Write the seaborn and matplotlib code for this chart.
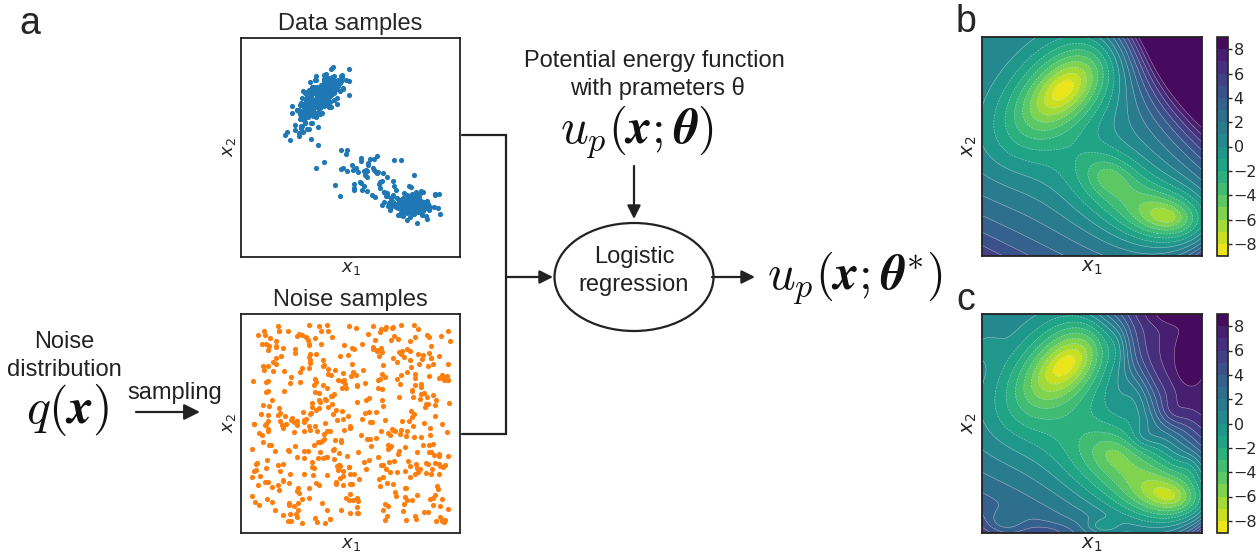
import numpy as np
import matplotlib
matplotlib.use("Agg")
import matplotlib.pyplot as plt
import seaborn as sns
import pandas as pd
from matplotlib.patches import Ellipse, FancyArrowPatch

# ------------------------------------------------------------------ data
# Data samples: gaussian components (axes-fraction units)
data_means = [(0.36, 0.74), (0.27, 0.62), (0.775, 0.245), (0.56, 0.37)]
data_sds = [(0.07, 0.033), (0.07, 0.045), (0.055, 0.03), (0.11, 0.06)]
data_angles = [44, 44, -8, -25]
data_counts = [260, 22, 150, 60]
# Noise samples: uniform noise distribution q(x) on the unit square
noise_count = 500

# Energy landscape u_p (panel b): generalized gaussian wells / bumps
b_amp = [-10.0, -7.5, -4.2, -1.5, 21.5]
b_mu = [(0.37, 0.76), (0.84, 0.18), (0.58, 0.36), (0.55, 0.30), (1.02, 1.02)]
b_sd = [(0.2, 0.11), (0.14, 0.08), (0.11, 0.08), (0.30, 0.15), (0.5, 0.2)]
b_ang = [42, -10, -25, -25, -55]
b_pow = [0.75, 0.75, 0.75, 1.0, 1.0]
b_cap = [0, 0, 0, 0, 0]          # 0 = no saturation
# exponential ramps toward the bottom corners: amplitude, direction (deg), offset, width
b_ramp_amp = [5.0, 5.0]
b_ramp_dir = [243.0, -45.0]
b_ramp_off = [0.0, 0.707]
b_ramp_w = [0.2, 0.08]
b_base = 1.0

# Learned landscape (panel c): same structure, saturated ridge, plus ripples
c_amp = [-10.0, -7.6, -4.2, -2.0, 38.0,
         3.0, 2.0, 1.6, -1.5, -1.4, -2.0, -1.8, 1.2, -1.0, 1.4, -1.2]
c_mu = [(0.38, 0.77), (0.85, 0.17), (0.60, 0.36), (0.58, 0.30), (1.02, 1.02),
        (0.94, 0.81), (0.92, 1.0), (0.86, 0.55), (0.70, 0.62), (0.62, 0.86),
        (0.55, 0.03), (0.10, 0.05), (0.30, 0.0), (0.02, 0.85), (0.74, 0.44),
        (0.95, 0.30)]
c_sd = [(0.2, 0.11), (0.14, 0.08), (0.15, 0.10), (0.30, 0.16), (0.5, 0.2),
        (0.035, 0.07), (0.12, 0.035), (0.05, 0.05), (0.05, 0.08), (0.04, 0.08),
        (0.05, 0.025), (0.06, 0.04), (0.08, 0.03), (0.05, 0.05), (0.05, 0.04),
        (0.04, 0.05)]
c_ang = [42, -10, -20, -25, -55] + [0] * 11
c_pow = [0.75, 0.75, 0.75, 1.0, 1.0] + [1.0] * 11
c_cap = [0, 0, 0, 0, 6.8] + [0] * 11
c_ramp_amp = [5.0, 7.0]
c_ramp_dir = [243.0, -45.0]
c_ramp_off = [0.0, 0.707]
c_ramp_w = [0.2, 0.07]
c_base = 1.0

cbar_ticks = [-8, -6, -4, -2, 0, 2, 4, 6, 8]
levels = np.arange(-9, 10, 1)

# ------------------------------------------------------------------ style
sns.set_theme(style="white")
plt.rcParams["font.family"] = ["Liberation Sans", "DejaVu Sans"]
plt.rcParams["mathtext.fontset"] = "dejavusans"

W, H = 1258, 552
fig = plt.figure(figsize=(W / 100, H / 100), dpi=100)


def ax_rect(l, t, r, b):
    return [l / W, 1 - b / H, (r - l) / W, (b - t) / H]


def style_box(ax):
    ax.set_xticks([])
    ax.set_yticks([])
    for s in ax.spines.values():
        s.set_visible(True)
        s.set_color("#222222")
        s.set_linewidth(1.3)


# ------------------------------------------------------------------ scatter panels
rng = np.random.default_rng(7)
pts = []
for m, sd, a, n in zip(data_means, data_sds, data_angles, data_counts):
    z = rng.standard_normal((n, 2)) * np.array(sd)
    t = np.deg2rad(a)
    R = np.array([[np.cos(t), -np.sin(t)], [np.sin(t), np.cos(t)]])
    pts.append(z @ R.T + np.array(m))
pts = np.vstack(pts)
df_data = pd.DataFrame({"x1": pts[:, 0], "x2": pts[:, 1]})
noise = rng.uniform(0, 1, (noise_count, 2))
df_noise = pd.DataFrame({"x1": noise[:, 0], "x2": noise[:, 1]})

ax_d = fig.add_axes(ax_rect(241, 38, 460, 257))
sns.scatterplot(data=df_data, x="x1", y="x2", ax=ax_d, s=14, color="#1f77b4",
                linewidth=0, legend=False)
ax_d.set_xlim(0, 1)
ax_d.set_ylim(0, 1)

ax_n = fig.add_axes(ax_rect(241, 314, 460, 533))
sns.scatterplot(data=df_noise, x="x1", y="x2", ax=ax_n, s=14, color="#ff7f0e",
                linewidth=0, legend=False)
ax_n.set_xlim(-0.05, 1.05)
ax_n.set_ylim(-0.05, 1.05)

for ax in (ax_d, ax_n):
    style_box(ax)
    ax.set_xlabel("$x_1$", fontsize=13, labelpad=2)
    ax.set_ylabel("$x_2$", fontsize=13, labelpad=2)
ax_d.set_title("Data samples", fontsize=17, pad=6)
ax_n.set_title("Noise samples", fontsize=17, pad=6)


# ------------------------------------------------------------------ energy panels
def energy(amp, mu, sd, ang, pw, cap, ramp_amp, ramp_dir, ramp_off, ramp_w, base, X, Y):
    E = np.full_like(X, base)
    for a, m, s, g, p, c in zip(amp, mu, sd, ang, pw, cap):
        t = np.deg2rad(g)
        dx, dy = X - m[0], Y - m[1]
        u = dx * np.cos(t) + dy * np.sin(t)
        v = -dx * np.sin(t) + dy * np.cos(t)
        q = 0.5 * ((u / s[0]) ** 2 + (v / s[1]) ** 2)
        term = a * np.exp(-q ** p)
        if c > 0:
            term = c * np.tanh(term / c)
        E += term
    for a, d, o, w in zip(ramp_amp, ramp_dir, ramp_off, ramp_w):
        t = np.deg2rad(d)
        sproj = X * np.cos(t) + Y * np.sin(t)
        E += a * np.exp((sproj - o) / w)
    return np.clip(E, -8.99, 8.99)


g = np.linspace(0, 1, 300)
X, Y = np.meshgrid(g, g)
E_b = energy(b_amp, b_mu, b_sd, b_ang, b_pow, b_cap, b_ramp_amp, b_ramp_dir,
             b_ramp_off, b_ramp_w, b_base, X, Y)
E_c = energy(c_amp, c_mu, c_sd, c_ang, c_pow, c_cap, c_ramp_amp, c_ramp_dir,
             c_ramp_off, c_ramp_w, c_base, X, Y)

for E, (t, b) in zip((E_b, E_c), ((37, 256), (314, 533))):
    ax = fig.add_axes(ax_rect(982, t, 1202, b))
    cf = ax.contourf(X, Y, E, levels=levels, cmap="viridis_r")
    ax.contour(X, Y, E, levels=levels, colors="white", linewidths=0.4, alpha=0.55)
    style_box(ax)
    ax.set_xlabel("$x_1$", fontsize=14, labelpad=2)
    ax.set_ylabel("$x_2$", fontsize=14, labelpad=2)
    cax = fig.add_axes(ax_rect(1217, t, 1228, b))
    cb = fig.colorbar(cf, cax=cax, ticks=cbar_ticks)
    cb.outline.set_linewidth(1.2)
    cb.outline.set_edgecolor("#222222")
    cax.tick_params(labelsize=11.5, length=3, width=1, pad=1)
    for lab in cax.get_yticklabels():
        lab.set_family("DejaVu Sans")

# ------------------------------------------------------------------ diagram overlay
ov = fig.add_axes([0, 0, 1, 1], zorder=5)
ov.set_xlim(0, W)
ov.set_ylim(H, 0)
ov.axis("off")
ov.patch.set_alpha(0)

for lab, (x, y) in zip(["a", "b", "c"], [(30, 24), (966, 22), (966, 300)]):
    ov.text(x, y, lab, fontsize=27, ha="center", va="center")

txt = dict(fontsize=17, ha="center", va="center", color="#222222")
ov.text(654, 61, "Potential energy function", **txt)
ov.text(657, 89, "with prameters θ", **txt)
ov.text(64, 342, "Noise", **txt)
ov.text(64, 370, "distribution", **txt)
ov.text(175, 393, "sampling", **txt)
ov.text(634, 257, "Logistic", **txt)
ov.text(634, 285, "regression", **txt)

math = dict(ha="center", va="center", math_fontfamily="cm", color="#111111")
ov.text(68, 410, r"$q(\boldsymbol{x})$", fontsize=36, **math)
ov.text(637, 132, r"$u_p(\boldsymbol{x};\boldsymbol{\theta})$", fontsize=35, **math)
ov.text(855, 278, r"$u_p(\boldsymbol{x};\boldsymbol{\theta}^{*})$", fontsize=35, **math)

lc = "#222222"
ov.plot([462, 506, 506, 462], [135, 135, 434, 434], color=lc, lw=1.6,
        solid_joinstyle="miter")
ov.add_patch(Ellipse((634, 277), 159, 108, fill=False, ec=lc, lw=1.6))


def arrow(p0, p1, ms=20):
    ov.add_patch(FancyArrowPatch(p0, p1, arrowstyle="-|>", mutation_scale=ms,
                                 color=lc, lw=1.6, shrinkA=0, shrinkB=0))


arrow((506, 277), (553, 277))
arrow((712, 277), (755, 277))
arrow((634, 166), (634, 219))
arrow((136, 412), (200, 412), ms=24)

fig.savefig("out.png", dpi=100)
